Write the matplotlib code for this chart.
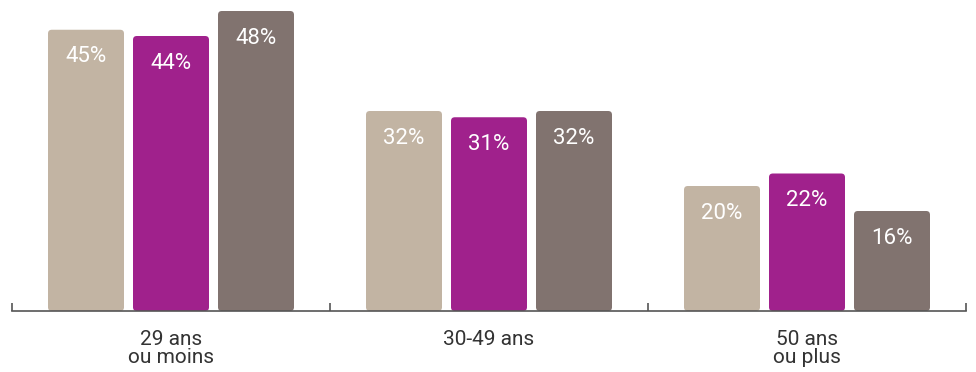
import matplotlib.pyplot as plt
from matplotlib.patches import FancyBboxPatch
import numpy as np

# Data
groups = ['29 ans\nou moins', '30-49 ans', '50 ans\nou plus']
serie_a = [45, 32, 20]
serie_b = [44, 31, 22]
serie_c = [48, 32, 16]
colors = ['#c2b4a3', '#a0218c', '#81736f']

plt.rcParams['font.family'] = ['Roboto', 'DejaVu Sans']

fig = plt.figure(figsize=(9.76, 3.72), dpi=100)
ax = fig.add_axes([12 / 976, 61 / 372, 954 / 976, 300 / 372])
ax.set_xlim(-0.5, 2.5)
ax.set_ylim(0, 48)

x = np.arange(len(groups))
width = 76 / 318
step = 85 / 318
aspect = (48 / 300) / (1 / 318)

for i, (vals, col) in enumerate(zip([serie_a, serie_b, serie_c], colors)):
    bars = ax.bar(x + (i - 1) * step, vals, width, color=col)
    for b, v in zip(bars, vals):
        b.set_visible(False)
        patch = FancyBboxPatch((b.get_x(), 0), b.get_width(), v,
                               boxstyle='round,pad=0,rounding_size=0.012',
                               mutation_aspect=aspect, fc=col, ec='none',
                               clip_on=False)
        ax.add_patch(patch)
        ax.annotate(f'{v}%', (b.get_x() + b.get_width() / 2, v),
                    xytext=(0, -27), textcoords='offset pixels',
                    ha='center', va='center', color='white', fontsize=16)

for s in ['top', 'left', 'right']:
    ax.spines[s].set_visible(False)
ax.spines['bottom'].set_color('#555555')
ax.spines['bottom'].set_linewidth(1.2)
ax.set_yticks([])
ax.set_xticks([-0.5, 0.5, 1.5, 2.5])
ax.set_xticklabels([])
ax.tick_params(axis='x', direction='in', length=6, width=1.2, color='#555555')

for xi, g in zip(x, groups):
    ax.text(xi, -0.063, g, transform=ax.get_xaxis_transform(),
            ha='center', va='top', fontsize=15, color='#333333',
            linespacing=0.95)

fig.savefig('out.png', dpi=100)
